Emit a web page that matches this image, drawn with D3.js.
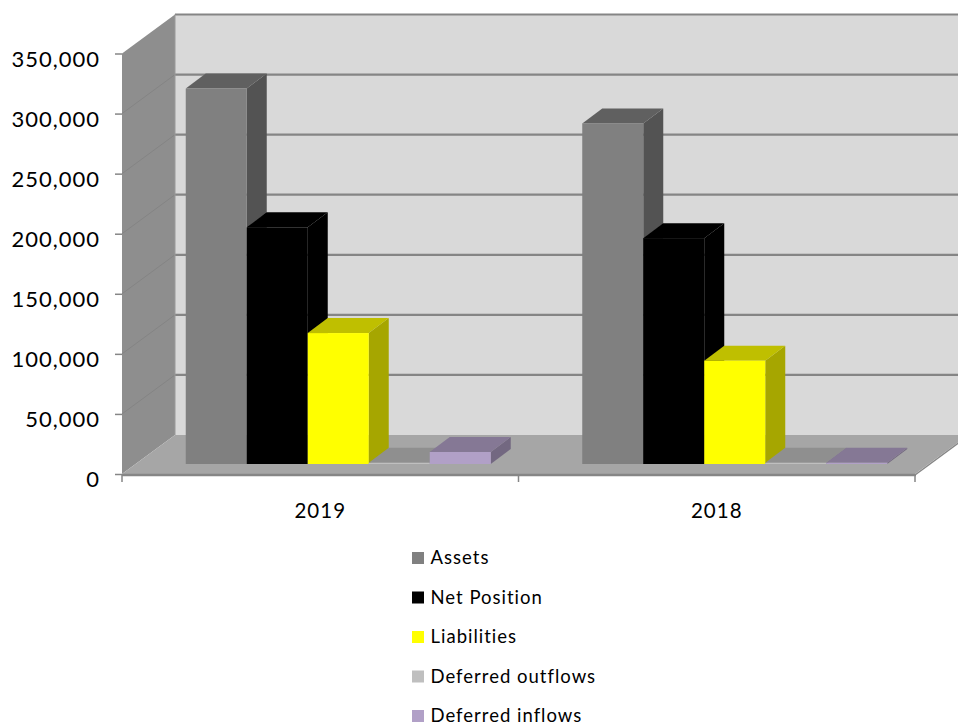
<!DOCTYPE html>
<html><head><meta charset="utf-8">
<script src="https://cdn.jsdelivr.net/npm/d3@7/dist/d3.min.js"></script>
<style>html,body{margin:0;padding:0;background:#fff;overflow:hidden}svg{display:block}</style>
</head><body><div id="chart"></div>
<script>
const categories = ["2019", "2018"];
const seriesNames = ["Assets", "Net Position", "Liabilities", "Deferred outflows", "Deferred inflows"];
const seriesColors = ["#808080", "#000000", "#ffff00", "#bfbfbf", "#b1a0c7"];
const values2019 = [312500, 197000, 109000, 1000, 10000];
const values2018 = [283500, 188000, 86000, 1000, 1000];
const yTickValues = [0, 50000, 100000, 150000, 200000, 250000, 300000, 350000];

const valuesByCategory = {"2019": values2019, "2018": values2018};
const W = 958, H = 726;
const svg = d3.select("#chart").append("svg").attr("width", W).attr("height", H);
const defs = svg.append("defs");
defs.append("filter").attr("id", "soft").attr("x", "-5%").attr("y", "-5%").attr("width", "110%").attr("height", "110%")
  .append("feGaussianBlur").attr("stdDeviation", 0.6);

const plotL = 122, plotR = 915, plotB = 474, plotT = 53.5;
const wallDx = 53, wallDy = 39;
const barPlaneDx = 18, barPlaneDy = 10, barDx = 20, barDy = 15;
const y = d3.scaleLinear().domain([0, 350000]).range([plotB, plotT]);
const x = d3.scaleBand().domain(categories).range([plotL, plotR]);
const barW = 61;
const xs = d3.scaleBand().domain(seriesNames)
  .range([(x.bandwidth() - 5 * barW) / 2, (x.bandwidth() + 5 * barW) / 2]);
const shade = (c, k) => { const r = d3.rgb(c); return d3.rgb(r.r * k, r.g * k, r.b * k).formatHex(); };
const poly = pts => pts.map(p => p.join(",")).join(" ");

const g = svg.append("g").attr("filter", "url(#soft)");

// walls
g.append("polygon").attr("fill", "#d9d9d9")
  .attr("points", poly([[plotL + wallDx, y(350000) - wallDy], [W + 5, y(350000) - wallDy], [W + 5, y(0) - wallDy], [plotL + wallDx, y(0) - wallDy]]));
g.append("polygon").attr("fill", "#8e8e8e")
  .attr("points", poly([[plotL, y(350000)], [plotL + wallDx, y(350000) - wallDy], [plotL + wallDx, y(0) - wallDy], [plotL, y(0)]]));
g.append("polygon").attr("fill", "#a6a6a6")
  .attr("points", poly([[plotL, y(0)], [plotL + wallDx, y(0) - wallDy], [plotR + wallDx, y(0) - wallDy], [plotR, y(0)]]));

// gridlines
yTickValues.filter(v => v > 0).forEach(v => {
  g.append("line").attr("x1", plotL + wallDx).attr("x2", W + 5)
    .attr("y1", y(v) - wallDy).attr("y2", y(v) - wallDy)
    .attr("stroke", "#858585").attr("stroke-width", 2.2);
  if (v < 350000) {
    g.append("line").attr("x1", plotL).attr("x2", plotL + wallDx)
      .attr("y1", y(v)).attr("y2", y(v) - wallDy)
      .attr("stroke", "#848484").attr("stroke-width", 1);
  }
});
g.append("line").attr("x1", plotL + wallDx).attr("x2", plotL + wallDx)
  .attr("y1", y(350000) - wallDy).attr("y2", y(0) - wallDy).attr("stroke", "#9a9a9a").attr("stroke-width", 1);
g.append("line").attr("x1", plotL).attr("x2", plotR + 1).attr("y1", y(0) + 1).attr("y2", y(0) + 1)
  .attr("stroke", "#868686").attr("stroke-width", 2.5);
g.append("line").attr("x1", plotR).attr("x2", plotR + wallDx).attr("y1", y(0) + 1).attr("y2", y(0) + 1 - wallDy)
  .attr("stroke", "#868686").attr("stroke-width", 1.5);

// bars
categories.forEach(cat => {
  valuesByCategory[cat].forEach((v, i) => {
    const name = seriesNames[i], col = seriesColors[i];
    const x0 = x(cat) + xs(name) + barPlaneDx, x1 = x0 + barW;
    const yb = y(0) - barPlaneDy, yt = y(v) - barPlaneDy;
    const b = g.append("g").attr("class", "bar");
    b.append("polygon").attr("fill", shade(col, 0.65))
      .attr("points", poly([[x1, yb], [x1 + barDx, yb - barDy], [x1 + barDx, yt - barDy], [x1, yt]]));
    b.append("polygon").attr("fill", shade(col, 0.75))
      .attr("points", poly([[x0, yt], [x0 + barDx, yt - barDy], [x1 + barDx, yt - barDy], [x1, yt]]));
    b.append("rect").attr("x", x0).attr("y", yt).attr("width", barW).attr("height", yb - yt).attr("fill", col);
  });
});

// axes
const font = "Lato, sans-serif";
const yAxis = d3.axisLeft(y).tickValues(yTickValues).tickFormat(d3.format(",")).tickSize(7).tickPadding(15);
const yG = svg.append("g").attr("transform", `translate(${plotL},0)`).call(yAxis);
yG.select(".domain").remove();
yG.selectAll("line").attr("stroke", "#868686").attr("stroke-width", 1.5);
yG.selectAll("text").attr("font-family", font).attr("font-size", 22).attr("letter-spacing", "1px").attr("fill", "#000").attr("dy", "0.58em");

const xAxis = d3.axisBottom(x).tickSize(0).tickPadding(27);
const xG = svg.append("g").attr("transform", `translate(0,${plotB + 2})`).call(xAxis);
xG.select(".domain").remove();
xG.selectAll("text").attr("font-family", font).attr("font-size", 20.5).attr("letter-spacing", "1px").attr("fill", "#000");
[plotL, plotL + x.step(), plotR].forEach(px => {
  svg.append("line").attr("x1", px).attr("x2", px).attr("y1", plotB + 1).attr("y2", plotB + 8)
    .attr("stroke", "#868686").attr("stroke-width", 1.5);
});

// legend
const legendY = d3.scalePoint().domain(seriesNames).range([558, 716]);
seriesNames.forEach((name, i) => {
  const row = svg.append("g").attr("transform", `translate(412,${legendY(name)})`);
  row.append("rect").attr("x", 0).attr("y", -6).attr("width", 12).attr("height", 12).attr("fill", seriesColors[i]);
  row.append("text").attr("x", 18.5).attr("y", 6).attr("font-family", font).attr("font-size", 18.5)
    .attr("letter-spacing", "1px").attr("fill", "#000").text(name);
});
</script></body></html>
